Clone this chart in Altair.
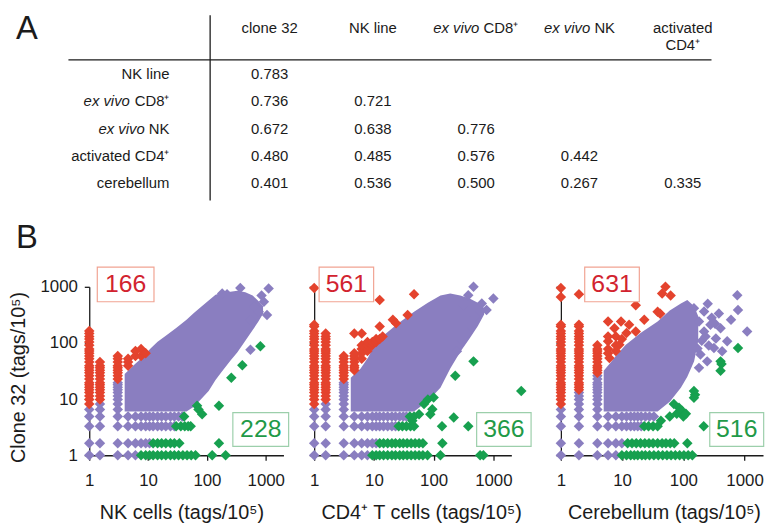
import altair as alt
import pandas as pd

FONT = "Liberation Sans"
INK = "#1b1b1b"
PURPLE = "#8a7ec0"
RED = "#e4432d"
GREEN = "#17a04f"
RED_TXT = "#d2232f"
GREEN_TXT = "#1f9a48"
RED_EDGE = "#f1a493"
GREEN_EDGE = "#9ccfab"

# ---------------- Panel A: correlation table ----------------
TABLE_COLS = ["clone 32", "NK line", "ex vivo CD8⁺", "ex vivo NK", "activated CD4⁺"]
TABLE_ROWS = ["NK line", "ex vivo CD8⁺", "ex vivo NK", "activated CD4⁺", "cerebellum"]
CORR = [
    [0.783],
    [0.736, 0.721],
    [0.672, 0.638, 0.776],
    [0.480, 0.485, 0.576, 0.442],
    [0.401, 0.536, 0.500, 0.267, 0.335],
]

# ---------------- Panel B: scatter plots (tags/10^5) ----------------
# discrete clone-32 abundance levels seen as rows / column steps
CLONE_LEVELS = [1, 1.63, 3.27, 4.9, 6.5, 8.2, 9.8, 11.4, 13.1, 14.7, 16.3, 18.0, 19.6,
                22.9, 26.1, 29.4, 32.7, 36.0, 39.2, 45.7, 52.3, 58.8, 65.3, 71.9, 78.4,
                91.5, 104.5, 117.6, 130.7, 147.0, 163.0, 196.0, 212.0]

# --- NK cells vs clone 32
NK_CORE_X = [4.0, 6, 8, 11, 14.5, 20, 30, 45, 60, 80, 107, 140, 180, 250, 330, 450, 600, 750, 900]
NK_CORE_LO = [6.0, 6.0, 6.0, 6.0, 6.0, 6.0, 6.0, 6.0, 7.3, 10, 14, 22, 31, 48, 68, 110, 170, 240, 330]
NK_CORE_HI = [28, 42, 55, 80, 105, 134, 185, 260, 340, 440, 570, 720, 780, 820, 850, 800, 700, 560, 450]
NK_PURPLE_COLS = [(1, 1, 6.5), (1.52, 1, 8.2), (3.05, 1, 19.6)]
NK_RED_COLS = [(1, 8.2, 163), (1.52, 9.8, 45.7), (3.05, 22.9, 58.8), (4.57, 39.2, 52.3)]
NK_PURPLE_ROWS = [
    (1, [4.57, 6.1]),
    (1.63, [4.57, 6.1, 7.6, 9.1, 10.6]),
    (3.27, [4.57, 6.1, 7.6, 9.1, 10.6, 12.2, 14.5, 17, 20, 24, 28]),
    (4.9, [4.57, 6.1, 7.6, 9.1, 10.6, 12.2, 14.5, 17, 20, 24, 28, 33, 38]),
]
NK_GREEN_ROWS = [
    (1, [7.6, 9.1, 10.6, 12.2, 14.5, 17, 20, 24, 28, 33, 39, 46, 54, 64, 123, 208]),
    (1.63, [12.2, 14.5, 17, 20, 24, 28, 34, 160]),
    (3.27, [30, 36, 42, 48, 53]),
]
NK_GREEN_PTS = [(41, 4.9), (68, 7.6), (72, 6.5), (83, 5.4), (160, 7.6), (260, 24), (400, 40), (810, 87)]
NK_RED_PTS = [(6.1, 58.8), (6.1, 71.9), (7.6, 58.8), (7.6, 78.4), (9.1, 65.3)]
NK_PURPLE_PTS = [(182, 760), (220, 740), (370, 955), (1120, 930), (930, 540), (1050, 316),
                 (760, 360), (550, 257), (550, 76), (640, 440), (850, 700)]
NK_COUNTS = ["166", "228"]

# --- CD4+ T cells vs clone 32
CD4_CORE_X = [4.1, 6, 8, 10.3, 15, 25, 47, 80, 130, 190, 280, 400, 550, 700]
CD4_CORE_LO = [6, 6, 6, 6, 6, 6, 6, 9.3, 16, 35, 70, 120, 200, 320]
CD4_CORE_HI = [24, 35, 55, 93, 140, 220, 360, 520, 700, 760, 700, 620, 520, 420]
CD4_PURPLE_COLS = [(1, 1, 6.5), (1.56, 1, 8.2), (3.13, 1, 19.6)]
CD4_RED_COLS = [(1, 8.2, 212), (1.56, 9.8, 147), (3.13, 22.9, 58.8), (4.7, 32.7, 65.3)]
CD4_RED_PTS = [(1, 955), (4.7, 147), (6.25, 147), (6.25, 52.3), (6.25, 65.3), (6.25, 78.4),
               (6.25, 91.5), (7.8, 71.9), (7.8, 78.4), (7.8, 91.5), (7.8, 104.5), (9.4, 91.5),
               (9.4, 104.5), (10.9, 104.5), (10.9, 117.6), (12.5, 117.6), (14, 130.7),
               (12.5, 196), (12.5, 580), (20.8, 258), (23.5, 224), (36.7, 316), (47, 740)]
CD4_PURPLE_ROWS = [
    (1, [4.7, 6.25, 7.8]),
    (1.63, [4.7, 6.25, 7.8, 9.4, 10.9]),
    (3.27, [4.7, 6.25, 7.8, 9.4, 10.9, 12.5, 14.5, 17, 20, 23]),
    (4.9, [4.7, 6.25, 7.8, 9.4, 10.9, 12.5, 14.5, 17, 20, 23, 27, 31, 35]),
]
CD4_GREEN_ROWS = [
    (1, [9.4, 10.9, 12.5, 14.5, 17, 20, 23, 27, 31, 36, 42, 49, 57, 66, 79, 130, 600, 680]),
    (1.63, [12.5, 14.5, 17, 20, 23, 27, 31, 36, 42, 49, 57, 66, 140]),
    (3.27, [26, 30, 35, 41, 47, 138, 380]),
]
CD4_GREEN_PTS = [(40, 4.9), (47, 4.9), (44, 4.1), (57, 5.4), (69, 8.2), (80, 9.8), (88, 5.4),
                 (95, 6.6), (100, 10.7), (217, 4.7), (230, 26), (465, 47), (2930, 14)]
CD4_PURPLE_PTS = [(465, 1000), (380, 710), (1000, 620), (640, 505), (770, 385), (495, 295),
                  (317, 470), (360, 150), (245, 71), (300, 110)]
CD4_COUNTS = ["561", "366"]

# --- Cerebellum vs clone 32
CER_CORE_X = [5.0, 6.5, 8, 11.5, 20, 38, 60, 91, 116, 150, 175]
CER_CORE_LO = [6, 6, 6, 6, 6, 6, 9, 16, 25, 47, 110]
CER_CORE_HI = [32, 45, 60, 93, 150, 240, 380, 505, 580, 450, 300]
CER_PURPLE_COLS = [(1, 1, 6.5), (1.97, 1, 13.1), (3.94, 1, 26.1)]
CER_RED_COLS = [(1, 8.2, 212), (1.97, 14.7, 212), (3.94, 29.4, 91.5)]
CER_RED_PTS = [(1, 660), (1, 955), (1.97, 740), (5.9, 240), (9.6, 240), (13, 210), (16.7, 470),
               (16.7, 160), (23, 260), (38, 360), (42, 330), (51, 1000), (45, 760), (62, 700),
               (5.9, 107), (9, 93), (6.2, 54), (7.5, 183), (5.9, 78.4), (7.9, 130.7),
               (7.9, 91.5), (9.9, 117.6), (5.9, 65.3), (11.8, 150), (5.9, 130.7), (7.9, 71.9)]
CER_PURPLE_ROWS = [
    (1, [5.9, 7.9]),
    (1.63, [5.9, 7.9, 9.9]),
    (3.27, [5.9, 7.9, 9.9, 11.8, 13.8, 15.8, 18, 20.5]),
    (4.9, [5.9, 7.9, 9.9, 11.8, 13.8, 15.8, 18, 20.5, 24, 28, 33]),
]
CER_GREEN_ROWS = [
    (1, [9.9, 11.8, 13.8, 15.8, 18, 21, 24, 28, 33, 39, 46, 54, 63, 74, 87, 102, 120, 140]),
    (1.63, [12.3, 14.5, 17, 20, 23.5, 27.5, 32, 38, 45, 52, 61, 71, 116]),
    (3.27, [23, 27, 32, 38, 215]),
]
CER_GREEN_PTS = [(43, 4.1), (60, 4.9), (70, 8.2), (78, 5.5), (85, 7.0), (95, 6.2), (100, 4.9),
                 (110, 5.5), (149, 14), (155, 12), (149, 10.6), (405, 47), (420, 42), (405, 32),
                 (780, 81)]
CER_PURPLE_PTS = [(760, 710), (780, 385), (1100, 160), (380, 335), (149, 415), (218, 363),
                  (180, 240), (405, 183), (218, 160), (277, 210), (520, 107), (316, 81),
                  (430, 71), (190, 62), (245, 47), (180, 36), (200, 110), (230, 130), (260, 90),
                  (340, 120), (290, 280), (330, 220), (170, 80), (600, 260), (250, 500)]
CER_COUNTS = ["631", "516"]

# count-box extents in data units: (x1, x2, y1, y2, label_x, label_y)
NK_BOXES = [(1.37, 12.6, 542, 2245, 4.16, 1100), (276, 2450, 1.44, 5.73, 823, 2.87)]
CD4_BOXES = [(1.21, 9.9, 542, 2245, 3.46, 1100), (525, 4280, 1.44, 5.73, 1500, 2.87)]
CER_BOXES = [(2.45, 19.1, 542, 2245, 6.84, 1100), (270, 2050, 1.44, 5.73, 745, 2.87)]


def expand_cols(specs):
    pts = []
    for x, lo, hi in specs:
        pts += [(x, v) for v in CLONE_LEVELS if lo <= v <= hi]
    return pts


def expand_rows(specs):
    pts = []
    for y, xs in specs:
        pts += [(x, y) for x in xs]
    return pts


def pts_df(pts):
    return pd.DataFrame(pts, columns=["x", "y"])


TICKS = [1, 10, 100, 1000]
AX_COMMON = dict(values=TICKS, format="d", grid=False, tickSize=5, tickColor=INK, tickWidth=1.3,
                 domainColor=INK, domainWidth=1.3, labelColor=INK, labelFont=FONT,
                 labelFontSize=17, titleFont=FONT, titleFontSize=20, titleFontWeight="normal",
                 titleColor=INK)


def panel(core, purple, red, green, boxes, counts, plot_w, lead, xtitle, title_x, first):
    # lead: empty gap (px) on the left of the plot inside this view
    xsc = alt.Scale(type="log", domain=[1, 2000], nice=False, range=[lead, lead + plot_w])
    ysc = alt.Scale(type="log", domain=[1, 1000], nice=False)
    xax = alt.Axis(labelFlush=False, labelPadding=21, labelBaseline="middle", title=xtitle,
                   titleX=lead + title_x, titleY=64, titleBaseline="alphabetic", **AX_COMMON)
    if first:
        yax = alt.Axis(labelPadding=7, title="Clone 32 (tags/10⁵)", titleAngle=270,
                       titleX=-65, titleY=91, titleBaseline="alphabetic", titleAlign="center",
                       **AX_COMMON)
    elif lead:
        yax = alt.Axis(labels=False, title="", offset=-lead, **AX_COMMON)
    else:
        yax = alt.Axis(labels=False, title="", **AX_COMMON)

    def X(f):
        return alt.X(f, type="quantitative", scale=xsc, axis=xax)

    def Y(f):
        return alt.Y(f, type="quantitative", scale=ysc, axis=yax)

    cx, clo, chi = core
    core_df = pd.DataFrame({"x": cx, "lo": clo, "hi": chi})
    layers = [
        alt.Chart(core_df).mark_area(color=PURPLE, opacity=1).encode(
            x=X("x"), y=Y("hi"), y2=alt.Y2("lo")),
    ]
    for df, colr in [(purple, PURPLE), (red, RED), (green, GREEN)]:
        layers.append(
            alt.Chart(pts_df(df)).mark_point(shape="diamond", filled=True, size=112, opacity=1,
                                             color=colr, strokeWidth=0).encode(
                x=X("x"), y=Y("y")))
    for (x1, x2, y1, y2, lx, ly), txt, edge, tcol in zip(
            boxes, counts, [RED_EDGE, GREEN_EDGE], [RED_TXT, GREEN_TXT]):
        bdf = pd.DataFrame({"x1": [x1], "x2": [x2], "y1": [y1], "y2": [y2],
                            "lx": [lx], "ly": [ly], "t": [txt]})
        layers.append(alt.Chart(bdf).mark_rect(fill="white", stroke=edge, strokeWidth=1.2).encode(
            x=X("x1"), x2=alt.X2("x2"), y=Y("y1"), y2=alt.Y2("y2")))
        layers.append(alt.Chart(bdf).mark_text(font=FONT, fontSize=25, color=tcol,
                                               align="center", baseline="middle").encode(
            x=X("lx"), y=Y("ly"), text="t:N"))
    if first:
        layers.append(alt.Chart(pd.DataFrame({"t": ["B"]})).mark_text(
            font=FONT, fontSize=33, color=INK, align="center", baseline="middle").encode(
            x=alt.value(-63), y=alt.value(-49), text="t:N"))
    return alt.layer(*layers).properties(width=lead + plot_w, height=170)


def build(core_x, core_lo, core_hi, pcols, prows, ppts, rcols, rpts, grows, gpts):
    purple = expand_cols(pcols) + expand_rows(prows) + ppts
    red = expand_cols(rcols) + rpts
    green = expand_rows(grows) + gpts
    return (core_x, core_lo, core_hi), purple, red, green


nk = build(NK_CORE_X, NK_CORE_LO, NK_CORE_HI, NK_PURPLE_COLS, NK_PURPLE_ROWS, NK_PURPLE_PTS,
           NK_RED_COLS, NK_RED_PTS, NK_GREEN_ROWS, NK_GREEN_PTS)
cd4 = build(CD4_CORE_X, CD4_CORE_LO, CD4_CORE_HI, CD4_PURPLE_COLS, CD4_PURPLE_ROWS,
            CD4_PURPLE_PTS, CD4_RED_COLS, CD4_RED_PTS, CD4_GREEN_ROWS, CD4_GREEN_PTS)
cer = build(CER_CORE_X, CER_CORE_LO, CER_CORE_HI, CER_PURPLE_COLS, CER_PURPLE_ROWS,
            CER_PURPLE_PTS, CER_RED_COLS, CER_RED_PTS, CER_GREEN_ROWS, CER_GREEN_PTS)

p1 = panel(*nk, NK_BOXES, NK_COUNTS, 196, 0, "NK cells (tags/10⁵)", 93, True)
p2 = panel(*cd4, CD4_BOXES, CD4_COUNTS, 199, 0, "CD4⁺ T cells (tags/10⁵)", 108, False)
p3 = panel(*cer, CER_BOXES, CER_COUNTS, 204, 19, "Cerebellum (tags/10⁵)", 104, False)

# ---------------- table chart ----------------
XT = alt.X("ci:Q", scale=alt.Scale(domain=[0, 4], range=[182, 599]), axis=None)
YT = alt.Y("ri:Q", scale=alt.Scale(domain=[0, 4], range=[58.5, 168.5]), axis=None)


def tlayer(rows, x, y, **mk):
    style = dict(font=FONT, fontSize=15, color=INK, baseline="middle")
    style.update(mk)
    return alt.Chart(pd.DataFrame(rows)).mark_text(**style).encode(x=x, y=y, text="t:N")


vals = [{"ci": j, "ri": i, "t": f"{v:.3f}"} for i, r in enumerate(CORR) for j, v in enumerate(r)]
tl = [tlayer(vals, XT, YT, align="center")]

# column headers
HEAD_SPLIT = {"CD8⁺": (3.25, 7.45), "NK": (10.85, 15.05)}
for j, name in enumerate(TABLE_COLS):
    if name.startswith("ex vivo "):
        rest = name[len("ex vivo "):]
        d_it, d_pl = HEAD_SPLIT[rest]
        tl.append(tlayer([{"ci": j, "t": "ex vivo"}], XT, alt.value(12), align="right",
                         dx=d_it, fontStyle="italic"))
        tl.append(tlayer([{"ci": j, "t": rest}], XT, alt.value(12), align="left", dx=d_pl))
    elif name.startswith("activated "):
        tl.append(tlayer([{"ci": j, "t": "activated"}], XT, alt.value(12), align="center"))
        tl.append(tlayer([{"ci": j, "t": name[len("activated "):]}], XT, alt.value(28.5),
                         align="center"))
    else:
        tl.append(tlayer([{"ci": j, "t": name}], XT, alt.value(12), align="center"))

# row labels
ROW_SPLIT = {"CD8⁺": -40, "NK": -25}
plain_rows = []
for i, name in enumerate(TABLE_ROWS):
    if name.startswith("ex vivo "):
        rest = name[len("ex vivo "):]
        plain_rows.append({"ri": i, "t": rest})
        tl.append(tlayer([{"ri": i, "t": "ex vivo"}], alt.value(81), YT, align="right",
                         dx=ROW_SPLIT[rest], fontStyle="italic"))
    else:
        plain_rows.append({"ri": i, "t": name})
tl.append(tlayer(plain_rows, alt.value(81), YT, align="right"))

one = pd.DataFrame({"k": [0]})
tl.append(alt.Chart(one).mark_rule(color=INK, strokeWidth=1.3).encode(
    x=alt.value(122), y=alt.value(-1), y2=alt.value(186)))
tl.append(alt.Chart(one).mark_rule(color=INK, strokeWidth=1.3).encode(
    x=alt.value(-21), x2=alt.value(628), y=alt.value(44)))
tl.append(tlayer([{"t": "A"}], alt.value(-63), alt.value(13), align="center", fontSize=33))

table = alt.layer(*tl).properties(width=630, height=186)

row_b = alt.hconcat(p1, p2, p3, spacing=31, bounds="flush")
chart = alt.vconcat(table, row_b, spacing=87, bounds="flush").properties(
    padding={"left": 1, "top": 3, "right": 0, "bottom": 0}
).configure(font=FONT).configure_view(strokeWidth=0)

chart.save("out.html", embed_options={"renderer": "svg", "actions": False})
